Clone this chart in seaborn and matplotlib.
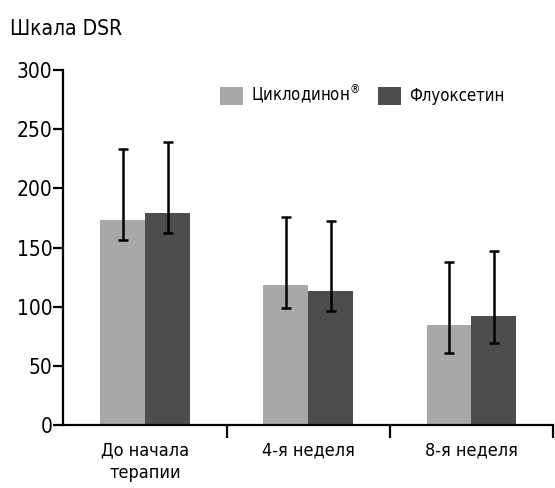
import numpy as np
import pandas as pd
import matplotlib
matplotlib.use("Agg")
import matplotlib.pyplot as plt
from matplotlib import font_manager
import seaborn as sns

# Data
periods = ["До начала\nтерапии", "4-я неделя", "8-я неделя"]
drugs = ["Циклодинон$^{®}$", "Флуоксетин"]
cyclo_mean = [173, 118, 84.5]
cyclo_low = [156, 99, 61]
cyclo_high = [233, 175.5, 138]
fluox_mean = [179, 113, 92.5]
fluox_low = [162.5, 96.5, 69.5]
fluox_high = [239, 172.5, 147]

colors = ["#a8a8a8", "#4d4d4d"]

sns.set_style("white")
names = {f.name for f in font_manager.fontManager.ttflist}
fams = [n for n in ['Liberation Sans Narrow', 'DejaVu Sans'] if n in names]
plt.rcParams['font.family'] = fams
plt.rcParams['font.stretch'] = 'condensed'
plt.rcParams['text.color'] = 'black'
plt.rcParams['xtick.color'] = 'black'
plt.rcParams['ytick.color'] = 'black'

df = pd.DataFrame({
    "period": periods * 2,
    "drug": [drugs[0]] * 3 + [drugs[1]] * 3,
    "value": cyclo_mean + fluox_mean,
    "low": cyclo_low + fluox_low,
    "high": cyclo_high + fluox_high,
})

fig = plt.figure(figsize=(5.55, 4.88), dpi=100)
ax = fig.add_axes([0.1144, 0.129, 0.882, 0.7275])

sns.barplot(data=df, x="period", y="value", hue="drug", palette=colors,
            width=0.55, errorbar=None, saturation=1, ax=ax, zorder=2,
            linewidth=0, edgecolor="none")

# error bars on top of each bar (asymmetric)
for i, drug in enumerate(drugs):
    sub = df[df["drug"] == drug]
    container = ax.containers[i]
    xs = [p.get_x() + p.get_width() / 2 for p in container.patches]
    vals = sub["value"].values
    yerr = [vals - sub["low"].values, sub["high"].values - vals]
    ax.errorbar(xs, vals, yerr=yerr, fmt="none", ecolor="black",
                elinewidth=1.8, capsize=3.8, capthick=1.8, zorder=3)

ax.set_xlim(-0.5, 2.5)
ax.set_ylim(0, 300)
ax.set_yticks([0, 50, 100, 150, 200, 250, 300])
ax.set_xlabel("")
ax.set_ylabel("")

sns.despine(ax=ax)
for side in ["left", "bottom"]:
    ax.spines[side].set_linewidth(1.6)
    ax.spines[side].set_color("black")

ax.tick_params(axis="y", direction="out", length=7, width=1.6, labelsize=15,
               pad=1, left=True)
ax.tick_params(axis="x", which="major", length=0, labelsize=13, pad=12)
ax.set_xticks([0.5, 1.5, 2.5], minor=True)
ax.tick_params(axis="x", which="minor", direction="out", length=9, width=1.6,
               bottom=True)
for lab in ax.get_xticklabels():
    lab.set_linespacing(1.3)

leg = ax.legend(loc="upper left", bbox_to_anchor=(220 / 555, (488 - 83) / 488),
                bbox_transform=fig.transFigure, ncol=2, frameon=False,
                fontsize=12, handlelength=1.35, handleheight=1.25,
                columnspacing=1.1, handletextpad=0.5, borderpad=0,
                borderaxespad=0)

fig.text(0.018, 0.94, "Шкала DSR", fontsize=15, ha="left", va="center")

fig.savefig("out.png", dpi=100)
